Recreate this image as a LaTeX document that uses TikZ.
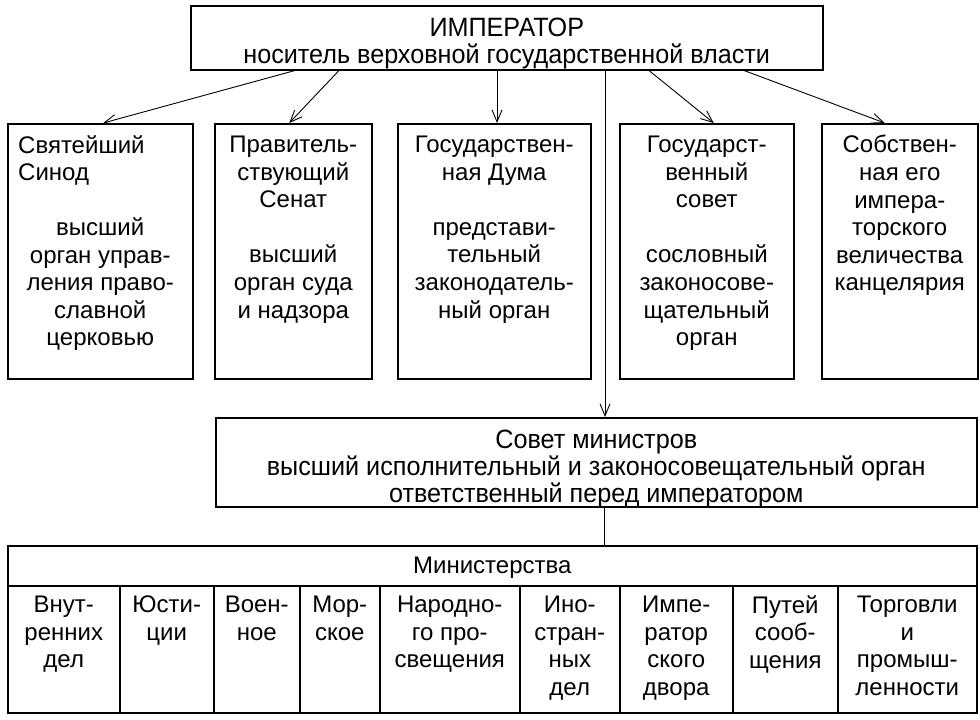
\documentclass[tikz,border=0pt]{standalone}
\usepackage{fontspec}
\setmainfont{Liberation Sans}
\newfontfamily\narrowfont[FakeStretch=0.95]{Liberation Sans}
\usetikzlibrary{arrows.meta,calc}
\newcommand\capstr{\rule{0pt}{.72em}}
\begin{document}
\begin{tikzpicture}[x=1pt,y=-1pt,
  box/.style={draw, line width=1.5pt, inner sep=0pt, anchor=north west},
  boxtext/.style={inner sep=0pt, anchor=north, align=center, font=\fontsize{24}{27.6}\selectfont},
  headtext/.style={inner sep=0pt, anchor=north, align=center, font=\narrowfont\fontsize{26.5}{27}\selectfont},
  arr/.style={line width=0.9pt, -{Straight Barb[length=12pt,width=10pt,line width=0.9pt]}},
  link/.style={line width=0.9pt}]
\useasboundingbox (0,0) rectangle (980,720);
\fill[white] (0,0) rectangle (980,720);

% emperor
\node[box, minimum width=632pt, minimum height=64pt] (imp) at (190,5) {};
\node[headtext] (impt) at ([yshift=-12pt]imp.north) {\capstr ИМПЕРАТОР\\носитель верховной государственной власти};

% five bodies
\node[box, minimum width=185pt, minimum height=255pt] (syn) at (7,123) {};
\node[box, minimum width=157pt, minimum height=255pt] (sen) at (214,123) {};
\node[box, minimum width=193pt, minimum height=255pt] (duma) at (397,123) {};
\node[box, minimum width=174pt, minimum height=255pt] (gs) at (619,123) {};
\node[box, minimum width=156pt, minimum height=255pt] (kanc) at (821,123) {};

\node[boxtext, anchor=north west, align=left] (synt) at ([xshift=11pt,yshift=-12pt]syn.north west) {\capstr Святейший\\Синод};
\node[boxtext] (synd) at ([yshift=-94.5pt]syn.north) {\capstr высший\\орган управ-\\ления право-\\славной\\церковью};
\node[boxtext] (sent) at ([yshift=-12pt]sen.north) {\capstr Правитель-\\ствующий\\Сенат\\[27.6pt]высший\\орган суда\\и надзора};
\node[boxtext] (dumat) at ([yshift=-12pt]duma.north) {\capstr Государствен-\\ная Дума\\[27.6pt]представи-\\тельный\\законодатель-\\ный орган};
\node[boxtext] (gst) at ([yshift=-12pt]gs.north) {\capstr Государст-\\венный\\совет\\[27.6pt]сословный\\законосове-\\щательный\\орган};
\node[boxtext] (kanct) at ([yshift=-12pt]kanc.north) {\capstr Собствен-\\ная его\\импера-\\торского\\величества\\канцелярия};

% council of ministers
\node[box, minimum width=761pt, minimum height=89pt] (sov) at (215,417) {};
\node[headtext] (sovt) at ([yshift=-12pt]sov.north) {\capstr Совет министров\\высший исполнительный и законосовещательный орган\\ответственный перед императором};

% ministries
\node[box, minimum width=969pt, minimum height=40pt] (hdr) at (7,545) {};
\node[boxtext] (hdrt) at ([yshift=-11pt]hdr.north) {\capstr Министерства};

\node[box, minimum width=112pt, minimum height=127pt] (m1) at (7,585) {};
\node[box, minimum width=94pt, minimum height=127pt] (m2) at (119,585) {};
\node[box, minimum width=86pt, minimum height=127pt] (m3) at (213,585) {};
\node[box, minimum width=80pt, minimum height=127pt] (m4) at (299,585) {};
\node[box, minimum width=140pt, minimum height=127pt] (m5) at (379,585) {};
\node[box, minimum width=100pt, minimum height=127pt] (m6) at (519,585) {};
\node[box, minimum width=113pt, minimum height=127pt] (m7) at (619,585) {};
\node[box, minimum width=105pt, minimum height=127pt] (m8) at (732,585) {};
\node[box, minimum width=139pt, minimum height=127pt] (m9) at (837,585) {};

\node[boxtext] (m1t) at ([yshift=-10pt]m1.north) {\capstr Внут-\\ренних\\дел};
\node[boxtext] (m2t) at ([yshift=-10pt]m2.north) {\capstr Юсти-\\ции};
\node[boxtext] (m3t) at ([yshift=-10pt]m3.north) {\capstr Воен-\\ное};
\node[boxtext] (m4t) at ([yshift=-10pt]m4.north) {\capstr Мор-\\ское};
\node[boxtext] (m5t) at ([yshift=-10pt]m5.north) {\capstr Народно-\\го про-\\свещения};
\node[boxtext] (m6t) at ([yshift=-10pt]m6.north) {\capstr Ино-\\стран-\\ных\\дел};
\node[boxtext] (m7t) at ([yshift=-10pt]m7.north) {\capstr Импе-\\ратор\\ского\\двора};
\node[boxtext] (m8t) at ([yshift=-10pt]m8.north) {\capstr Путей\\сооб-\\щения};
\node[boxtext] (m9t) at ([yshift=-10pt]m9.north) {\capstr Торговли\\и\\промыш-\\ленности};

% connectors
\coordinate (s1) at ($(imp.south west)+(105,0)$);
\coordinate (s2) at ($(imp.south west)+(149,0)$);
\coordinate (s3) at ($(imp.south west)+(307,0)$);
\coordinate (v)  at ($(imp.south west)+(415,0)$);
\coordinate (s4) at ($(imp.south west)+(459,0)$);
\coordinate (s5) at ($(imp.south west)+(554,0)$);
\draw[arr] (s1) -- ([xshift=3pt]syn.north);
\draw[arr] (s2) -- ([xshift=-4pt]sen.north);
\draw[arr] (s3) -- (s3 |- duma.north);
\draw[arr] (s4) -- ([xshift=7pt]gs.north);
\draw[arr] (s5) -- ([xshift=-15pt]kanc.north);
\draw[arr] (v) -- (v |- sov.north);
\coordinate (w) at ($(sov.south west)+(389,0)$);
\draw[link] (w) -- (w |- hdr.north);
\end{tikzpicture}
\end{document}
